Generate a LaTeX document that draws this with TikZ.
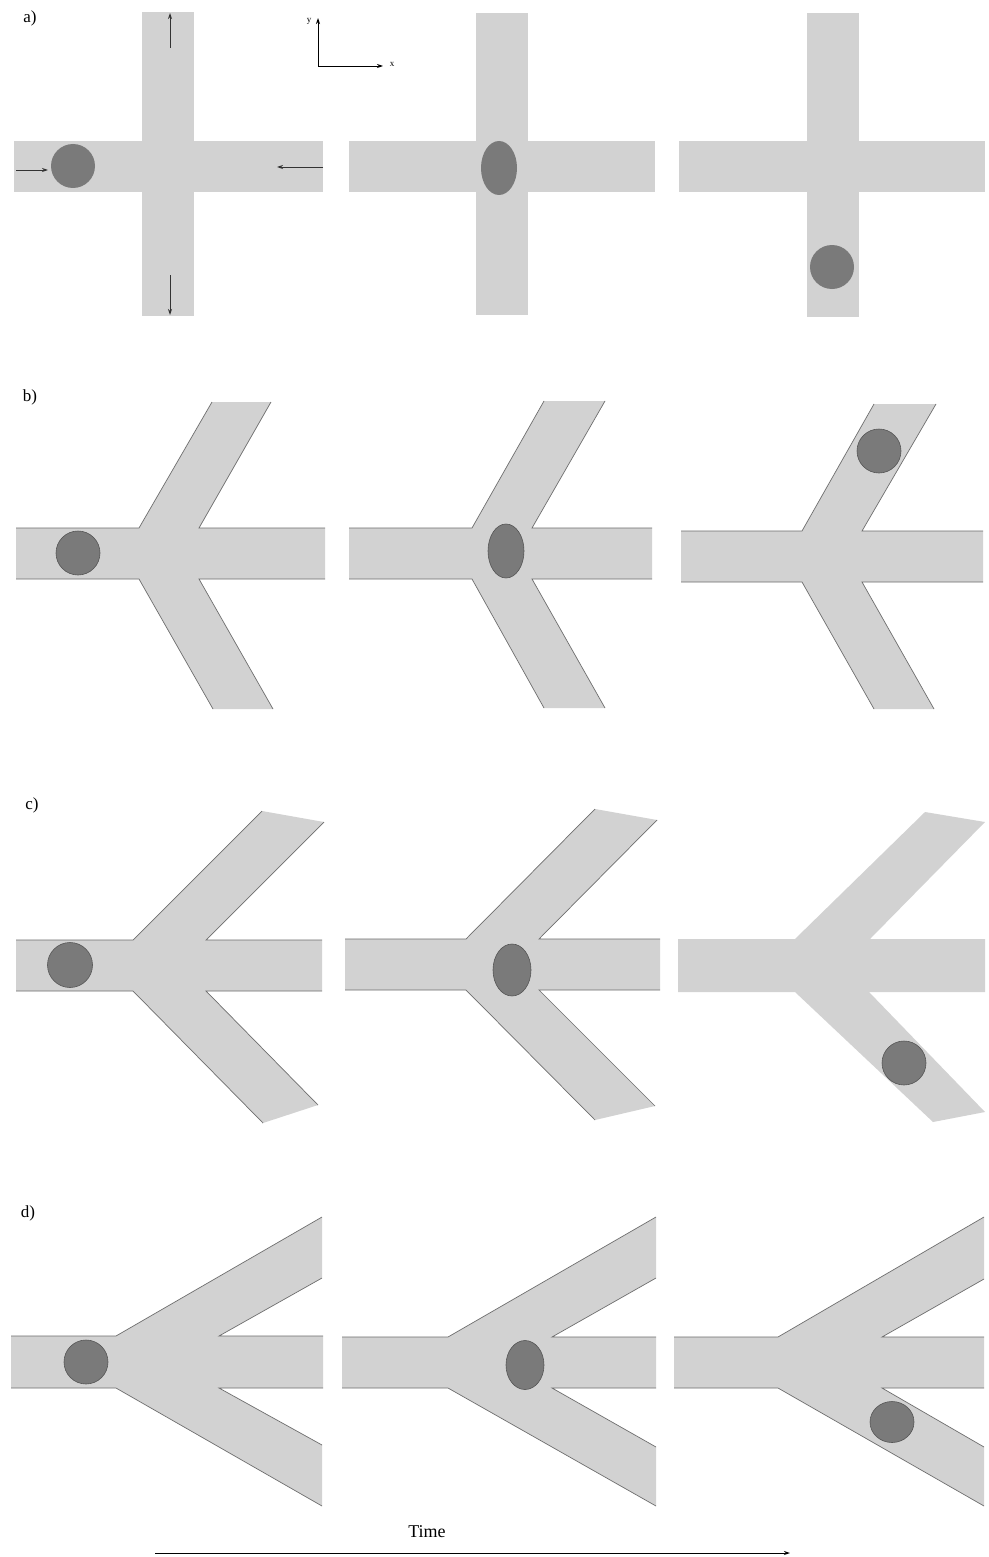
\documentclass[tikz,border=0pt]{standalone}
\usepackage{fontspec}
\setmainfont{Liberation Serif}
\usetikzlibrary{arrows.meta}
\definecolor{chanfill}{RGB}{210,210,210}
\definecolor{wallcol}{RGB}{110,110,110}
\definecolor{dropfill}{RGB}{122,122,122}
\definecolor{dropedge}{RGB}{85,85,85}
\tikzset{
  chan/.style={fill=chanfill},
  wall/.style={draw=wallcol,line width=0.7pt},
  drop/.style={fill=dropfill,draw=dropedge,line width=0.6pt},
  flow/.style={draw=black!80,line width=0.9pt,-{Stealth[length=6pt,width=4pt]}},
  axis/.style={draw=black,line width=0.9pt,-{Stealth[length=6pt,width=4pt]}},
  lab/.style={font=\fontsize{17}{20}\selectfont,anchor=center,inner sep=0pt},
}
\begin{document}
\begin{tikzpicture}[x=1pt,y=-1pt]
\useasboundingbox (0,0) rectangle (988,1557);
\fill[white] (0,0) rectangle (988,1557);

% ---------------- row a ----------------
\node[lab] (la) at (30,18) {a)};
\fill[chan] (142,12) rectangle (194,316);
\fill[chan] (14,141) rectangle (323,192);
\coordinate (a1s) at (170,48); \coordinate (a1e) at (170,13);
\draw[flow] (a1s) -- (a1e);
\coordinate (a2s) at (170,275); \coordinate (a2e) at (170,315);
\draw[flow] (a2s) -- (a2e);
\coordinate (a3s) at (16,170); \coordinate (a3e) at (48,170);
\draw[flow] (a3s) -- (a3e);
\coordinate (a4s) at (323,167); \coordinate (a4e) at (277,167);
\draw[flow] (a4s) -- (a4e);
\fill[drop,draw=none] (73,166) circle (22);
% axes
\coordinate (org) at (318,66);
\coordinate (yend) at (318,18);
\coordinate (xend) at (383,66);
\draw[axis] (org) -- (yend);
\draw[axis] (org) -- (xend);
\node[font=\fontsize{9}{10}\selectfont,inner sep=0pt] (ly) at (309,21) {y};
\node[font=\fontsize{9}{10}\selectfont,inner sep=0pt] (lx) at (392,64) {x};

\fill[chan] (476,13) rectangle (528,315);
\fill[chan] (349,141) rectangle (655,192);
\fill[drop,draw=none] (499,168) ellipse (18 and 27);

\fill[chan] (807,13) rectangle (859,317);
\fill[chan] (679,141) rectangle (985,192);
\fill[drop,draw=none] (832,267) circle (22);

% ---------------- row b ----------------
\node[lab] (lb) at (30,397) {b)};
\fill[chan] (16,528) -- (139,528) -- (212,402) -- (271,402) -- (199,528) -- (325,528)
  -- (325,579) -- (199,579) -- (273,709) -- (213,709) -- (139,579) -- (16,579) -- cycle;
\draw[wall] (16,528) -- (139,528) -- (212,402);
\draw[wall] (271,402) -- (199,528) -- (325,528);
\draw[wall] (325,579) -- (199,579) -- (273,709);
\draw[wall] (213,709) -- (139,579) -- (16,579);
\draw[drop] (78,553) circle (22);

\fill[chan] (349,528) -- (472,528) -- (544,401) -- (605,401) -- (532,528) -- (652,528)
  -- (652,579) -- (532,579) -- (605,708) -- (544,708) -- (472,579) -- (349,579) -- cycle;
\draw[wall] (349,528) -- (472,528) -- (544,401);
\draw[wall] (605,401) -- (532,528) -- (652,528);
\draw[wall] (652,579) -- (532,579) -- (605,708);
\draw[wall] (544,708) -- (472,579) -- (349,579);
\draw[drop] (506,551) ellipse (18 and 27);

\fill[chan] (681,531) -- (802,531) -- (874,404) -- (936,404) -- (862,531) -- (983,531)
  -- (983,582) -- (862,582) -- (934,709) -- (874,709) -- (802,582) -- (681,582) -- cycle;
\draw[wall] (681,531) -- (802,531) -- (874,404);
\draw[wall] (936,404) -- (862,531) -- (983,531);
\draw[wall] (983,582) -- (862,582) -- (934,709);
\draw[wall] (874,709) -- (802,582) -- (681,582);
\draw[drop] (879,451) circle (22);

% ---------------- row c ----------------
\node[lab] (lc) at (32,805) {c)};
\fill[chan] (16,940) -- (133,940) -- (262,811) -- (324,822) -- (206,940) -- (322,940)
  -- (322,991) -- (206,991) -- (318,1105) -- (263,1123) -- (133,991) -- (16,991) -- cycle;
\draw[wall] (16,940) -- (133,940) -- (262,811);
\draw[wall] (324,822) -- (206,940) -- (322,940);
\draw[wall] (322,991) -- (206,991) -- (318,1105);
\draw[wall] (263,1123) -- (133,991) -- (16,991);
\draw[drop] (70,965) circle (22.5);

\fill[chan] (345,939) -- (466,939) -- (595,809) -- (657,820) -- (539,939) -- (660,939)
  -- (660,990) -- (539,990) -- (655,1106) -- (595,1120) -- (466,990) -- (345,990) -- cycle;
\draw[wall] (345,939) -- (466,939) -- (595,809);
\draw[wall] (657,820) -- (539,939) -- (660,939);
\draw[wall] (660,990) -- (539,990) -- (655,1106);
\draw[wall] (595,1120) -- (466,990) -- (345,990);
\draw[drop] (512,970) ellipse (19 and 26);

\fill[chan] (678,939) -- (795,939) -- (925,812) -- (985,822) -- (870,939) -- (985,939)
  -- (985,992) -- (869,992) -- (985,1112) -- (933,1122) -- (795,992) -- (678,992) -- cycle;
\draw[drop] (904,1063) circle (22);

% ---------------- row d ----------------
\node[lab] (ld) at (28,1213) {d)};
\fill[chan] (11,1336) -- (116,1336) -- (322,1217) -- (322,1278) -- (219,1336) -- (323,1336)
  -- (323,1388) -- (219,1388) -- (322,1445) -- (322,1506) -- (116,1388) -- (11,1388) -- cycle;
\draw[wall] (11,1336) -- (116,1336) -- (322,1217);
\draw[wall] (322,1278) -- (219,1336) -- (323,1336);
\draw[wall] (323,1388) -- (219,1388) -- (322,1445);
\draw[wall] (322,1506) -- (116,1388) -- (11,1388);
\draw[drop] (86,1362) circle (22);

\fill[chan] (342,1337) -- (448,1337) -- (656,1217) -- (656,1278) -- (552,1337) -- (656,1337)
  -- (656,1388) -- (552,1388) -- (656,1447) -- (656,1506) -- (448,1388) -- (342,1388) -- cycle;
\draw[wall] (342,1337) -- (448,1337) -- (656,1217);
\draw[wall] (656,1278) -- (552,1337) -- (656,1337);
\draw[wall] (656,1388) -- (552,1388) -- (656,1447);
\draw[wall] (656,1506) -- (448,1388) -- (342,1388);
\draw[drop] (525,1365) ellipse (19 and 24.5);

\fill[chan] (674,1337) -- (778,1337) -- (984,1217) -- (984,1279) -- (882,1337) -- (984,1337)
  -- (984,1388) -- (882,1388) -- (984,1447) -- (984,1506) -- (778,1388) -- (674,1388) -- cycle;
\draw[wall] (674,1337) -- (778,1337) -- (984,1217);
\draw[wall] (984,1279) -- (882,1337) -- (984,1337);
\draw[wall] (984,1388) -- (882,1388) -- (984,1447);
\draw[wall] (984,1506) -- (778,1388) -- (674,1388);
\draw[drop] (892,1422) ellipse (22 and 20.5);

% ---------------- time arrow ----------------
\node[font=\fontsize{18}{21}\selectfont,inner sep=0pt] (tlab) at (427,1532) {Time};
\coordinate (ts) at (155,1553);
\coordinate (te) at (790,1553);
\draw[axis,line width=1pt] (ts) -- (te);
\end{tikzpicture}
\end{document}
